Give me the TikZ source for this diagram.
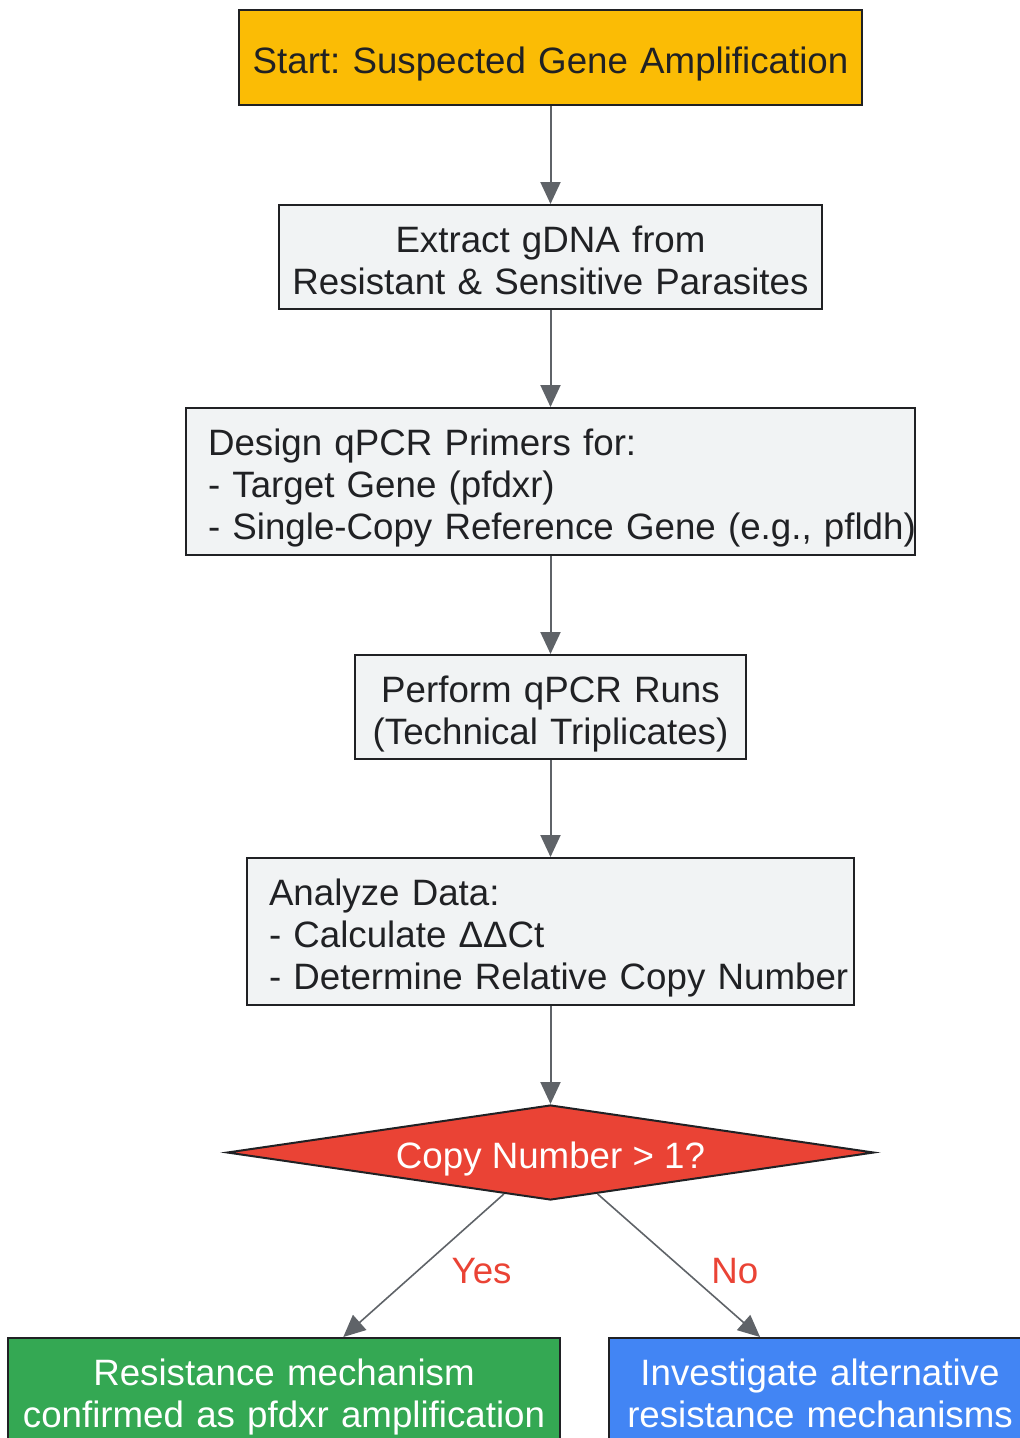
\documentclass[tikz,border=0pt]{standalone}
\usepackage{fontspec}
\setmainfont{Liberation Sans}
\usetikzlibrary{shapes.geometric,arrows.meta}
\definecolor{startyellow}{HTML}{FBBC05}
\definecolor{stepgray}{HTML}{F1F3F4}
\definecolor{edgegray}{HTML}{5F6368}
\definecolor{inkdark}{HTML}{202124}
\definecolor{checkred}{HTML}{EA4335}
\definecolor{yesgreen}{HTML}{34A853}
\definecolor{altblue}{HTML}{4285F4}
\begin{document}
\begin{tikzpicture}[x=1pt,y=-1pt,
  every node/.style={font=\fontsize{36.7}{42}\selectfont\frenchspacing},
  boxtext/.style={execute at begin node={\rule[-8pt]{0pt}{48pt}},execute at end node={\rule[-8pt]{0pt}{8pt}}},
  box/.style={boxtext,draw=inkdark,line width=2pt,fill=stepgray,text=inkdark,inner sep=0pt,align=center},
  flow/.style={draw=edgegray,line width=2pt,-{Triangle[length=22pt,width=20pt]}},
  answer/.style={text=checkred,inner sep=0pt}]
\useasboundingbox (0,0) rectangle (1020,1438);
\def\midx{550.5}
% steps
\node[box,fill=startyellow,minimum width=623pt,minimum height=95pt,text width=623pt] (start) at (\midx,57.5) {Start: Suspected Gene Amplification};
\node[box,minimum width=543pt,minimum height=104pt,text width=543pt] (extract) at (\midx,257) {Extract gDNA from\\Resistant \& Sensitive Parasites};
\node[box,minimum width=729pt,minimum height=147pt,text width=685pt,align=left] (design) at (\midx,481.5) {Design qPCR Primers for:\\- Target Gene (pfdxr)\\\mbox{- Single-Copy Reference Gene (e.g., pfldh)}};
\node[box,minimum width=391pt,minimum height=104pt,text width=391pt] (runs) at (\midx,707) {Perform qPCR Runs\\(Technical Triplicates)};
\node[box,minimum width=607pt,minimum height=147pt,text width=563pt,align=left] (analyze) at (\midx,931.5) {Analyze Data:\\- Calculate ΔΔCt\\\mbox{- Determine Relative Copy Number}};
% decision
\node[diamond,boxtext,draw=inkdark,line width=2pt,fill=checkred,text=white,aspect=6.9,inner sep=0pt,minimum width=647pt,minimum height=95pt] (check) at (\midx,1152.5) {Copy Number > 1?};
% outcomes
\node[box,fill=yesgreen,text=white,minimum width=552pt,minimum height=104pt,text width=552pt] (confirmed) at (284,1390) {Resistance mechanism\\confirmed as pfdxr amplification};
\node[box,fill=altblue,text=white,minimum width=422pt,minimum height=104pt,text width=422pt] (other) at (820,1390) {Investigate alternative\\resistance mechanisms};
% connectors
\draw[flow] (start) -- (extract);
\draw[flow] (extract) -- (design);
\draw[flow] (design) -- (runs);
\draw[flow] (runs) -- (analyze);
\draw[flow] (analyze) -- (check);
\draw[flow,line width=1.6pt] (check) -- node[answer,midway,xshift=58pt,yshift=-6pt] (yes) {Yes} (confirmed);
\draw[flow,line width=1.6pt] (check) -- node[answer,midway,xshift=56pt,yshift=-6pt] (no) {No} (other);
\end{tikzpicture}
\end{document}
